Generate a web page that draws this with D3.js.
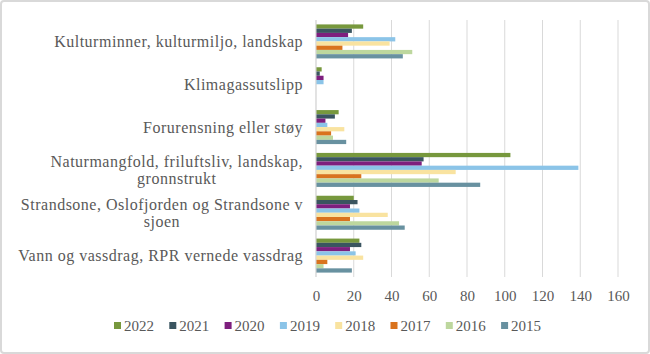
<!DOCTYPE html>
<html><head><meta charset="utf-8">
<script src="https://cdn.jsdelivr.net/npm/d3@7/dist/d3.min.js"></script>
<style>
html,body{margin:0;padding:0;background:#fff;}
svg{display:block;}
</style></head>
<body>
<svg id="c" width="650" height="354"></svg>
<script>
const FONT = "'Liberation Serif', 'Tinos', 'Times New Roman', 'DejaVu Serif', 'Noto Serif', serif";
const categories = [
  ["Kulturminner, kulturmiljo, landskap"],
  ["Klimagassutslipp"],
  ["Forurensning eller støy"],
  ["Naturmangfold, friluftsliv, landskap,", "gronnstrukt"],
  ["Strandsone, Oslofjorden og Strandsone v", "sjoen"],
  ["Vann og vassdrag, RPR vernede vassdrag"]
];
const series = ["2022","2021","2020","2019","2018","2017","2016","2015"];
const colors = ["#77983D","#3A5560","#7E1F7E","#8BC4E8","#F9E3A0","#D9731E","#BDD79E","#6891A0"];
// values per series, in category order above
const v2022 = [25, 3, 12, 103, 20, 23];
const v2021 = [19, 2, 10, 57, 22, 24];
const v2020 = [17, 4, 5, 56, 18, 18];
const v2019 = [42, 4, 6, 139, 23, 21];
const v2018 = [39, 0, 15, 74, 38, 25];
const v2017 = [14, 0, 8, 24, 18, 6];
const v2016 = [51, 0, 9, 65, 44, 4];
const v2015 = [46, 0, 16, 87, 47, 19];
const values = [v2022, v2021, v2020, v2019, v2018, v2017, v2016, v2015];
const ticks = [0,20,40,60,80,100,120,140,160];

const svg = d3.select("#c");
svg.append("rect").attr("x",1).attr("y",1).attr("width",648).attr("height",352)
  .attr("rx",3).attr("fill","#fff").attr("stroke","#D9D9D9").attr("stroke-width",2);

const x = d3.scaleLinear().domain([0,160]).range([316,618]);
const y0 = d3.scaleBand().domain(d3.range(categories.length)).range([20,277])
  .paddingInner(0.206).paddingOuter(0.103);
const y1 = d3.scaleBand().domain(series).range([0,y0.bandwidth()]);

svg.append("g").selectAll("line").data(ticks).join("line")
  .attr("x1",d=>x(d)).attr("x2",d=>x(d)).attr("y1",20).attr("y2",277)
  .attr("stroke","#D9D9D9").attr("stroke-width",1);

const g = svg.append("g");
series.forEach((s,si)=>{
  g.selectAll(null).data(values[si]).join("rect")
    .attr("x",x(0))
    .attr("y",(d,ci)=>y0(ci)+y1(s))
    .attr("width",d=>x(d)-x(0))
    .attr("height",y1.bandwidth())
    .attr("fill",colors[si]);
});

svg.append("line").attr("x1",x(0)).attr("x2",x(0)).attr("y1",20).attr("y2",277)
  .attr("stroke","#D9D9D9");

const xa = svg.append("g").attr("transform","translate(0,296)")
  .call(d3.axisBottom(x).tickValues(ticks).tickSize(0).tickPadding(0));
xa.attr("font-family",null).attr("font-size",null);
xa.select(".domain").remove();
xa.selectAll("text").attr("dy","0.35em")
  .style("font-family",FONT).style("font-size","15px").style("fill","#595959");

const lineH = 17;
categories.forEach((lines,ci)=>{
  const cy = y0(ci)+y0.bandwidth()/2;
  const t = svg.append("text").attr("text-anchor","middle")
    .style("font-family",FONT).style("font-size","16px").style("letter-spacing","0.5px")
    .style("fill","#595959");
  const n = lines.length;
  const spans = lines.map((l,li)=>t.append("tspan").text(l)
    .attr("y", cy + (li-(n-1)/2)*lineH).attr("dy","0.35em"));
  const w = d3.max(spans.map(sp=>sp.node().getComputedTextLength()));
  const cx = 303 - w/2;
  spans.forEach(sp=>sp.attr("x",cx));
});

const leg = svg.append("g");
series.forEach((s,si)=>{
  const lx = 114 + si*55.3;
  leg.append("rect").attr("x",lx).attr("y",322).attr("width",7).attr("height",7).attr("fill",colors[si]);
  leg.append("text").attr("x",lx+10).attr("y",326).attr("dy","0.35em")
    .style("font-family",FONT).style("font-size","15px").style("fill","#595959").text(s);
});
</script>
</body></html>
